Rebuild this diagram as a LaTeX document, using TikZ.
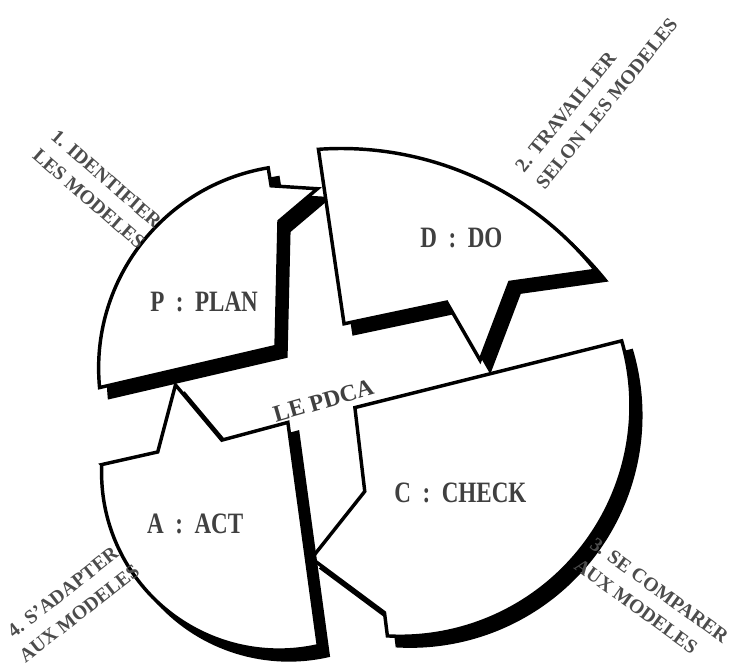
\documentclass[tikz,border=0pt]{standalone}
\usepackage{fontspec}
\setmainfont{Liberation Serif}
\usepackage{tikz}
\usetikzlibrary{positioning}

\begin{document}
\begin{tikzpicture}[
  x=1pt, y=-1pt,
  piece/.style={draw, line width=3.5pt, line join=miter, fill=white,
                preaction={fill=black, draw=black, line width=3.5pt,
                           transform canvas={shift={(10pt,-10pt)}}}},
  stage/.style={font=\fontsize{30}{32}\selectfont\bfseries, text=black!75, xscale=0.78},
  aim/.style={font=\fontsize{20}{27}\selectfont\bfseries, text=black!70},
  every node/.style={inner sep=0pt}
]
  \fill[white] (0,0) rectangle (730,659);

  % P : plan
  \path[piece] (280,343) -- (101,384.7) arc[start angle=174.5, end angle=260.5, radius=206]
    -- (275,180) -- (322,183) -- (283,216) -- cycle;
  % D : do
  \path[piece] (349,320) -- (323,143) arc[start angle=266, end angle=321.2, radius=331]
    -- (517,278) -- (487,357) -- (453,298) -- cycle;
  % C : check
  \path[piece] (360,405) -- (630.6,337.3) arc[start angle=-16.3, end angle=93.2, radius=234]
    -- (390,613) -- (316,558) -- (370,490) -- cycle;
  % A : act
  \path[piece] (103.2,462.8) -- (160,450) -- (178,382) -- (225,438) -- (292,420)
    -- (322.9,646.5) arc[start angle=77.2, end angle=182.6, radius=180] -- cycle;

  \node[stage] (plan)  at (207,298) {P\ \ :\ \ PLAN};
  \node[stage] (do)    at (468,233) {D\ \ :\ \ DO};
  \node[stage] (check) at (467,492) {C\ \ :\ \ CHECK};
  \node[stage] (act)   at (198,523) {A\ \ :\ \ ACT};
  \node[stage, xscale=1.28, rotate=16, font=\fontsize{24}{26}\selectfont\bfseries] (pdca) at (328,398) {LE PDCA};

  \node[aim, rotate=-41, align=center] (identify) at (99,183) {1. IDENTIFIER\\LES MODELES};
  \node[aim, rotate=51, align=left, anchor=west] (work) at (537,172) {2. TRAVAILLER\\SELON LES MODELES};
  \node[aim, rotate=-36, align=left, anchor=west] (compare) at (593,552) {3. SE COMPARER\\AUX MODELES};
  \node[aim, rotate=38, align=center] (adapt) at (72,603) {4. S'ADAPTER\\AUX MODELES};
\end{tikzpicture}
\end{document}
